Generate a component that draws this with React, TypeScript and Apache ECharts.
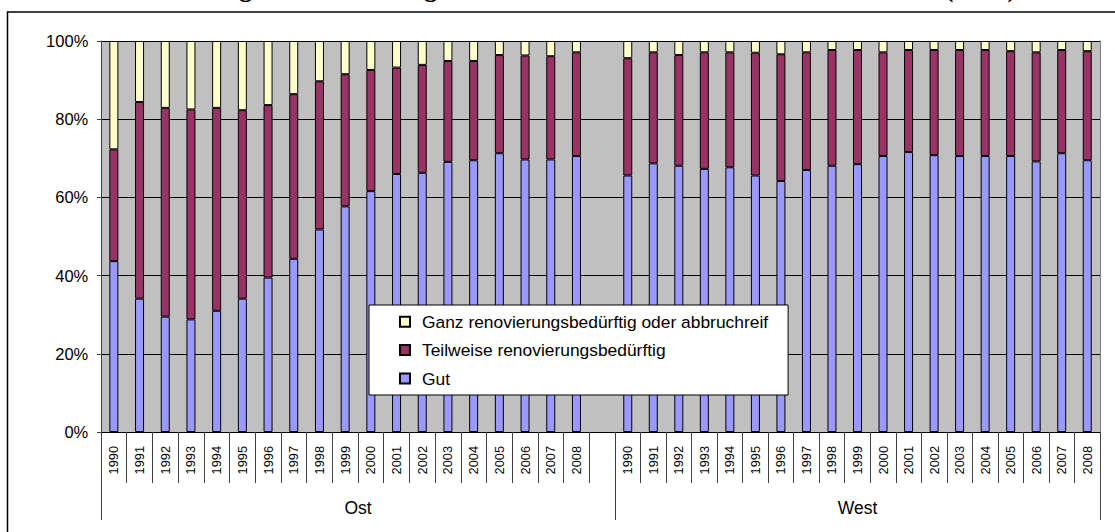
import React, { useEffect, useRef } from "react";
import * as echarts from "echarts";

const titleText = "Abbildung 6: Einschätzung des Gebäudezustands durch den Interviewer (in %)";
const years = ["1990","1991","1992","1993","1994","1995","1996","1997","1998","1999","2000","2001","2002","2003","2004","2005","2006","2007","2008"];
const groups = ["Ost", "West"];
const seriesNames = ["Gut", "Teilweise renovierungsbedürftig", "Ganz renovierungsbedürftig oder abbruchreif"];

const ostGut = [43.7,34.1,29.5,28.8,31.0,34.1,39.5,44.3,51.8,57.7,61.6,66.0,66.3,69.1,69.5,71.3,69.7,69.7,70.6];
const ostTeil = [28.6,50.3,53.4,53.7,51.9,48.2,44.1,42.1,37.9,33.8,31.0,27.2,27.6,25.8,25.4,25.1,26.6,26.4,26.5];
const ostGanz = [27.7,15.6,17.1,17.5,17.1,17.7,16.4,13.6,10.3,8.5,7.4,6.8,6.1,5.1,5.1,3.6,3.7,3.9,2.9];

const westGut = [65.6,68.7,68.1,67.3,67.7,65.6,64.2,67.0,68.1,68.5,70.6,71.6,70.8,70.6,70.6,70.6,69.2,71.3,69.5];
const westTeil = [30.0,28.4,28.3,29.8,29.4,31.4,32.4,30.1,29.6,29.2,26.5,26.1,26.9,27.1,27.1,26.8,27.9,26.4,27.9];
const westGanz = [4.4,2.9,3.6,2.9,2.9,3.0,3.4,2.9,2.3,2.3,2.9,2.3,2.3,2.3,2.3,2.6,2.9,2.3,2.6];

const colors = ["#9999FF", "#993366", "#FFFFCC"];
const FONT = "'Liberation Sans', Arial, sans-serif";

export default function App() {
  const ref = useRef<HTMLDivElement>(null);
  useEffect(() => {
    if (!ref.current) return;
    const chart = echarts.init(ref.current, null, { renderer: "svg" });
    const ostCats = [...years, ""];
    const ostData = [ostGut, ostTeil, ostGanz].map((a) => [...a, null]);
    const westData = [westGut, westTeil, westGanz];

    const yearAxis = (gridIndex: number, data: string[]) => ({
      type: "category",
      gridIndex,
      data,
      position: "bottom",
      boundaryGap: true,
      axisLine: { show: true, lineStyle: { color: "#000", width: 1 } },
      axisTick: { show: true, length: 51, interval: 0, lineStyle: { color: "#404040", width: 1 } },
      axisLabel: { show: true, rotate: 90, interval: 0, margin: 14, fontSize: 12.8, color: "#000", fontFamily: FONT },
      splitLine: { show: false },
    });
    const groupAxis = (gridIndex: number, name: string) => ({
      type: "category",
      gridIndex,
      data: [name],
      position: "bottom",
      offset: 0,
      boundaryGap: true,
      axisLine: { show: false },
      axisTick: { show: true, length: 88, lineStyle: { color: "#404040", width: 1 } },
      axisLabel: { show: true, margin: 67, fontSize: 17.5, color: "#000", fontFamily: FONT },
      splitLine: { show: false },
    });

    const mkSeries = (xAxisIndex: number, yAxisIndex: number, stack: string, data: (number | null)[][]) =>
      seriesNames.map((name, i) => ({
        type: "bar",
        name,
        stack,
        xAxisIndex,
        yAxisIndex,
        barWidth: 9,
        data: data[i],
        itemStyle: { color: colors[i], borderColor: "#000", borderWidth: 1 },
        emphasis: { disabled: true },
      }));

    chart.setOption({
      animation: false,
      textStyle: { fontFamily: FONT },
      graphic: [
        {
          type: "rect",
          silent: true,
          z: 0,
          shape: { x: 7.5, y: 12, width: 1300, height: 700 },
          style: { fill: "none", stroke: "#000", lineWidth: 1.5 },
        },
        {
          type: "text",
          silent: true,
          x: 575,
          y: -11.5,
          style: {
            text: titleText,
            font: "bold 26px 'Liberation Serif', 'Times New Roman', serif",
            align: "center",
            verticalAlign: "middle",
            fill: "#000",
          },
        },
      ],
      grid: [
        { left: 101, top: 41, width: 514, height: 391, show: true, backgroundColor: "#C0C0C0", borderWidth: 0, containLabel: false, outerBoundsMode: "none" },
        { left: 615, top: 41, width: 485, height: 391, show: true, backgroundColor: "#C0C0C0", borderWidth: 0, containLabel: false, outerBoundsMode: "none" },
      ],
      xAxis: [
        yearAxis(0, ostCats),
        groupAxis(0, groups[0]),
        yearAxis(1, years),
        groupAxis(1, groups[1]),
      ],
      yAxis: [
        {
          type: "value",
          gridIndex: 0,
          min: 0,
          max: 100,
          interval: 20,
          axisLine: { show: true, lineStyle: { color: "#404040", width: 1 } },
          axisTick: { show: true, length: 4, lineStyle: { color: "#404040" } },
          axisLabel: { formatter: "{value}%", fontSize: 16.5, margin: 12.7, color: "#000", fontFamily: FONT },
          splitLine: { show: true, lineStyle: { color: "#000", width: 1 } },
        },
        {
          type: "value",
          gridIndex: 1,
          position: "right",
          min: 0,
          max: 100,
          interval: 20,
          axisLine: { show: true, lineStyle: { color: "#808080", width: 1 } },
          axisTick: { show: false },
          axisLabel: { show: false },
          splitLine: { show: true, lineStyle: { color: "#000", width: 1 } },
        },
      ],
      legend: {
        show: true,
        orient: "vertical",
        left: 369,
        top: 305,
        z: 20,
        data: [seriesNames[2], seriesNames[1], seriesNames[0]],
        icon: "rect",
        itemWidth: 10,
        itemHeight: 10,
        itemGap: 10.4,
        padding: [7.7, 20, 7.5, 30],
        backgroundColor: "#fff",
        borderColor: "#000",
        borderWidth: 1,
        selectedMode: false,
        textStyle: { fontSize: 17.4, lineHeight: 18, color: "#000", fontFamily: FONT, padding: [0, 0, 0, 7] },
      },
      series: [
        ...mkSeries(0, 0, "ost", ostData),
        ...mkSeries(2, 1, "west", westData),
      ],
    });
    return () => chart.dispose();
  }, []);
  return <div ref={ref} style={{ position: "absolute", left: 0, top: 0, width: 1115, height: 532 }} />;
}
